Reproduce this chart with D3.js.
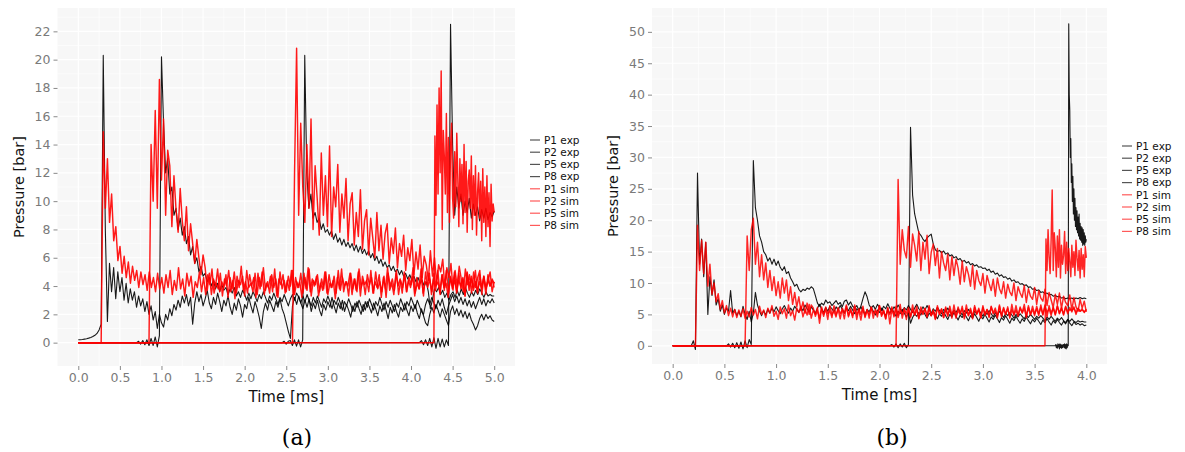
<!DOCTYPE html>
<html>
<head>
<meta charset="utf-8">
<script src="https://cdn.jsdelivr.net/npm/d3@7"></script>
<style>
  body { margin: 0; background: #fff; }
  svg { display: block; font-family: "DejaVu Sans", Verdana, sans-serif; }
</style>
</head>
<body>
<svg id="chart" width="1185" height="452"></svg>
<script>
// ---- data ----
const seriesNames = ["P1 exp", "P2 exp", "P5 exp", "P8 exp", "P1 sim", "P2 sim", "P5 sim", "P8 sim"];

const aXTicks = [0, 0.5, 1, 1.5, 2, 2.5, 3, 3.5, 4, 4.5, 5];
const aYTicks = [0, 2, 4, 6, 8, 10, 12, 14, 16, 18, 20, 22];
const bXTicks = [0, 0.5, 1, 1.5, 2, 2.5, 3, 3.5, 4];
const bYTicks = [0, 5, 10, 15, 20, 25, 30, 35, 40, 45, 50];

// [start, end] time in ms of each sampled record (pressure is 0 before start)
const aSpan = [[0, 5], [0.7, 5], [2.45, 5], [4.1, 5], [0.275, 5], [0.85, 5], [2.575, 5], [4.275, 5]];
const bSpan = [[0.18, 4], [0.52, 4], [2.1, 4], [3.7, 4], [0.22, 4], [0.7, 4], [2.16, 4], [3.6, 4]];

// panel (a), pressures in bar
const a_P1exp = [0.2,0.2,0.22,0.25,0.28,0.32,0.37,0.43,0.52,0.65,0.9,1.3,20.3,8,1.5,5.6,3.6,5.3,3.1,5.0,
  3.6,4.6,3.0,4.2,2.8,3.8,3.0,3.6,2.5,3.3,2.6,3.1,2.2,2.9,2.0,2.6,1.6,2.2,1.0,2.0,
  1.4,1.1,2.0,1.6,2.4,1.9,2.7,2.3,3.0,2.5,3.3,2.8,3.4,2.6,3.2,1.3,2.8,3.6,2.9,3.4,
  2.6,3.1,3.7,2.8,2.4,3.2,2.7,3.5,2.9,2.2,3.0,2.6,3.3,2.5,2.0,2.8,2.3,3.1,2.6,1.8,
  2.7,2.4,3.2,2.6,2.1,2.9,2.4,1.8,1.0,2.2,2.8,2.3,3.0,2.6,2.2,2.9,2.5,3.1,2.4,2.0,
  1.4,0.8,0.3,2.6,3.2,2.7,3.3,2.8,2.4,3.0,2.5,3.1,2.2,2.8,2.4,3.0,2.3,1.9,2.7,2.3,
  2.9,2.5,3.2,2.6,2.1,2.8,2.4,3.0,2.2,2.7,2.3,1.8,2.6,2.2,2.9,2.4,2.0,2.7,2.3,2.9,
  2.5,2.1,2.8,2.4,1.9,2.6,2.2,2.8,2.3,1.7,2.5,2.1,2.7,2.2,1.8,2.5,2.2,2.8,2.3,1.9,
  2.6,2.2,2.7,2.1,1.7,2.4,1.9,1.4,1.2,2.0,2.5,2.1,2.7,2.3,1.8,2.4,2.0,1.6,1.2,2.2,
  2.6,2.0,2.4,1.9,2.3,1.8,2.2,1.7,2.1,1.6,1.3,0.9,1.2,1.7,2.0,1.6,2.0,1.7,1.9,1.6,1.5];
const a_P2exp = [0,0.1,-0.1,0.15,-0.15,0.2,-0.2,0.3,-0.2,0.4,-0.3,0.5,
  20.2,15.5,12,13,10.5,11,9,9.5,8,8.8,7.6,8.2,7,7.5,6.2,6.8,5.6,6,5,5.4,4.7,
  4.9,4.3,4.6,4.0,4.4,3.8,4.2,3.6,4.1,3.7,3.9,3.4,3.8,3.5,3.9,3.3,3.6,3.2,3.7,3.4,3.0,
  3.5,3.1,3.6,3.3,2.9,3.4,3.1,3.6,3.2,2.8,3.3,3.0,3.5,3.1,2.7,3.2,2.9,3.4,3.0,2.6,
  3.1,3.4,3.0,3.5,3.2,2.8,3.3,2.9,3.4,3.0,2.6,3.2,2.8,3.3,2.9,2.5,3.1,2.8,3.3,2.9,
  2.4,3.0,2.7,3.2,2.8,2.3,2.9,2.6,3.1,2.7,2.2,2.8,2.5,3.0,2.6,2.2,2.9,2.5,3.1,2.7,
  2.3,2.9,2.6,3.2,2.7,2.3,2.9,2.5,3.0,2.6,2.2,2.8,2.5,3.1,2.7,2.3,2.9,2.6,3.2,2.8,
  2.4,3.0,2.6,2.2,2.0,2.7,3.1,2.7,3.2,2.8,2.4,3.0,2.6,3.1,2.5,2.0,2.6,3.0,3.4,2.9,
  3.3,2.8,3.2,2.7,3.1,2.6,3.0,2.5,2.9,2.4,2.8,3.2,2.7,3.1,2.6,3.0,2.8,3.1,2.8];
const a_P5exp = [0,0.1,-0.1,0.1,0.15,-0.2,0.2,-0.25,0.2,-0.3,0.2,
  20.3,12,9.5,10.5,8.8,9.2,8.5,8.8,8.0,8.4,7.8,8.0,
  7.6,7.9,7.3,7.7,7.1,7.4,6.9,7.3,6.8,7.1,6.7,7.0,6.5,6.9,6.4,6.8,6.3,6.6,6.2,6.5,
  6.0,6.3,5.8,6.1,5.6,5.9,5.4,5.7,5.3,5.5,5.1,5.4,5.0,5.2,4.8,5.1,4.7,4.9,4.5,4.8,
  4.4,4.7,4.3,4.6,4.2,4.4,4.0,4.3,3.6,2.4,3.0,3.8,3.6,3.9,3.4,3.7,3.2,3.5,3.0,3.4,
  3.6,3.2,3.7,3.3,3.8,3.4,3.9,3.5,3.2,3.6,3.3,3.7,3.4,3.8,3.5,3.2,3.6,3.3,3.4,3.3,3.3];
const a_P8exp = [0,0.15,-0.15,0.2,-0.2,0.3,-0.3,0.35,-0.4,0.3,-0.3,0.25,-0.3,0.2,-0.2,
  22.5,14,9,11,9.5,10.5,9,10,9.2,10.2,8.8,9.8,9.0,9.6,8.6,9.4,8.8,9.5,8.7,9.2,8.9,9.3];
const a_P1sim = [0,14.9,9.5,13,8.5,10.5,7.2,8.2,5.8,6.8,4.9,6.1,4.6,5.7,4.2,5.4,4.4,5.1,3.9,5.0,
  4.1,4.8,3.7,5.0,3.9,4.6,3.6,4.9,3.8,
  4.6,3.5,4.8,3.9,5.1,3.4,4.4,3.7,5.3,3.8,4.5,3.3,4.9,4.0,4.7,3.2,4.3,3.9,5.0,3.6,
  4.6,3.4,4.8,4.1,5.2,3.5,4.2,3.8,4.9,3.3,4.5,4.0,5.1,3.6,4.4,3.1,4.7,3.9,5.4,3.7,
  4.3,3.5,4.8,4.0,4.6,3.2,4.9,3.8,5.0,3.4,4.2,3.9,4.7,3.6,5.2,3.3,4.5,4.1,4.8,3.5,
  4.4,3.7,5.1,3.4,4.6,3.9,4.3,3.2,4.9,3.8,5.3,3.6,4.5,4.0,4.7,3.3,4.2,3.7,5.0,3.5,
  4.8,3.9,4.4,3.1,4.6,3.8,5.2,3.6,4.3,4.0,4.9,3.4,4.5,3.7,5.0,3.3,4.7,4.1,4.4,3.6,
  5.1,3.5,4.3,3.9,4.8,3.2,4.6,3.8,5.3,3.7,4.2,3.4,4.9,4.0,4.5,3.5,5.0,3.6,4.4,3.9,
  4.7,3.3,4.6,3.8,5.2,3.5,4.3,4.1,4.9,3.4,4.5,3.7,5.1,3.6,4.8,3.9,4.2,3.2,4.7,3.8,
  5.0,3.5,4.4,4.0,4.6,3.3,4.9,3.7,4.5,3.9,5.1,3.6,4.3,3.8,4.7,3.4,4.8,4.0,4.4,3.9];
const a_P2sim = [0,14,10,16.4,9.5,18.6,11.5,15.8,9,13.6,12.5,8.2,11.8,9.4,7.8,10.9,8.6,7.2,9.6,6.5,
  8.4,7.0,5.6,7.3,6.0,4.8,6.2,5.3,
  3.7,4.9,3.4,4.5,4.0,5.2,3.6,4.3,3.9,4.8,3.2,4.6,3.8,5.0,3.5,4.4,4.1,4.7,3.3,5.1,
  3.9,4.2,3.6,4.9,3.4,4.6,4.0,5.3,3.7,4.3,3.5,4.8,3.9,4.5,3.2,5.0,3.8,4.4,3.6,4.7,
  4.0,5.1,3.4,4.3,3.9,4.9,3.5,4.6,3.7,5.2,3.3,4.4,4.1,4.8,3.6,4.5,3.8,5.0,3.4,4.2,
  3.9,4.7,3.5,5.1,3.7,4.6,4.0,4.3,3.3,4.9,3.8,4.5,3.6,5.2,3.9,4.4,3.4,4.8,4.1,4.6,
  3.5,5.0,3.8,4.3,3.6,4.7,3.2,4.9,4.0,4.5,3.7,5.1,3.4,4.4,3.9,4.8,3.6,4.6,4.1,5.3,
  3.5,4.2,3.8,4.7,3.3,5.0,3.9,4.5,3.6,4.9,4.0,4.3,3.4,4.8,3.7,5.1,3.5,4.6,3.9,4.4,
  3.6,4.9,3.8,4.5,3.3,5.0,4.0,4.7,3.7,4.3,3.5,4.8,3.9,4.6,3.8,4.4,4.0,4.5,4.2];
const a_P5sim = [0,12,20.8,9,15.5,11,8.5,14,9.5,15.8,8,12.5,10.2,7.6,13.4,9,11.8,8.2,13.9,7.5,
  11,9.6,12.6,7.8,10.5,8.8,11.6,7.2,9.8,10.6,6.9,9.2,7.5,10.8,6.6,8.6,9.4,6.2,8.8,7.4,
  6.0,9.2,6.5,8.3,5.9,7.7,8.4,5.6,7.4,6.3,8.1,5.3,7.0,6.1,7.6,5.1,6.7,5.8,7.3,4.8,
  6.4,5.2,6.9,4.6,6.1,5.5,4.4,6.5,4.7,6.0,4.2,5.5,5.0,5.9,3.9,5.3,4.6,5.6,3.7,5.1,
  4.0,5.4,4.5,3.6,5.2,4.1,4.8,3.5,5.0,3.9,4.6,5.1,3.4,4.7,3.8,4.4,5.0,3.6,4.3];
const a_P8sim = [0,14.6,9,16.8,10.5,18,12,19.2,8,15,13.2,10.5,16.2,9.2,14.5,8.5,13.8,15.5,10.2,8.8,
  13.5,9.6,14.8,11.6,8.2,13,10,12.6,8.4,14,9.2,12.8,7.8,11.4,12.2,9.5,13.2,8.0,11.8,9.0,
  12.5,7.6,10.6,12.0,8.8,11.4,7.2,12.3,8.5,11.0,7.5,11.8,8.2,10.6,6.8,11.2,8.6,9.8,9.2];

// panel (b), pressures in bar
const b_P1exp = [0,0.8,-0.6,27.5,13,17,11,16.5,5,11,8,10.5,6.5,7.5,5.5,6.5,5,6,5.5,8.8,
  5.2,5.8,4.8,5.5,4.6,6.3,5.0,4.2,5.5,3.8,5.2,8.5,6.5,5.5,4.8,5.6,4.9,5.8,5.2,6.0,
  5.4,6.2,5.6,5.1,5.9,6.4,5.7,5.2,6.0,5.5,6.3,5.8,5.3,6.1,5.6,6.5,5.9,5.4,6.2,5.7,
  5.2,6.0,6.6,5.8,5.3,6.1,5.5,6.3,5.9,5.4,6.2,5.7,6.4,5.8,5.2,6.0,5.6,6.3,5.7,5.1,
  5.9,5.5,6.2,5.6,5.0,5.8,5.4,6.1,5.5,4.9,5.7,5.3,6.0,5.4,4.8,5.6,5.2,5.9,5.3,4.7,
  5.5,5.1,5.8,5.2,4.6,5.4,3.6,4.5,5.1,4.7,5.3,4.9,5.6,5.0,4.4,5.2,4.8,5.5,4.9,4.3,
  5.1,4.7,5.4,4.8,4.2,5.0,4.6,5.3,4.7,4.1,4.9,4.5,5.2,4.6,4.0,4.8,4.4,5.1,4.5,3.9,
  4.7,4.3,5.0,4.4,3.8,4.6,4.2,4.9,4.3,3.7,4.5,4.1,4.8,4.2,3.6,4.4,4.0,4.7,4.1,3.6,
  4.3,3.9,4.6,4.0,3.5,4.2,3.8,4.4,3.9,3.4,4.1,3.7,4.3,3.8,3.3,4.0,3.6,4.2,3.7,3.3,
  3.9,3.5,4.1,3.6,3.2,3.8,3.4,3.6,3.3,3.5,3.2,3.3];
const b_P2exp = [0,0.3,-0.2,0.4,-0.3,0.5,-0.4,0.6,-0.5,0.8,-0.3,1.0,0.2,
  29.5,22,20,17.5,16.5,15,14.5,13.5,14,13,13.8,12.8,13.5,12.5,12,12.6,11.5,11.8,10.8,10.2,
  9.5,9.8,9.0,8.6,9.0,8.8,9.2,9.0,9.4,9.1,8.0,6.8,6.3,6.8,6.5,7.3,6.8,7.0,6.4,6.8,
  7.2,6.6,6.9,6.2,7.1,7.3,6.5,7.0,6.3,6.0,6.4,5.7,6.3,7.5,8.6,7.8,6.5,6.0,
  6.4,5.8,6.6,6.1,5.6,6.3,5.9,6.7,6.0,5.5,6.2,5.8,6.5,5.9,5.4,6.1,5.7,6.4,5.8,5.3,
  6.0,6.6,5.9,5.5,6.2,5.7,6.4,5.8,5.2,5.9,5.5,6.1,5.6,5.1,5.8,5.4,6.0,5.5,5.0,5.7,
  5.3,5.9,5.4,4.9,5.6,5.2,5.8,5.3,4.8,5.5,5.1,5.7,5.2,4.7,5.4,5.0,5.6,5.1,4.6,5.3,
  4.9,5.5,5.0,4.5,5.2,4.8,5.3,4.9,4.4,5.0,4.6,5.1,4.7,4.3,4.9,4.5,5.0,4.6,4.2,4.7,
  4.4,4.8,4.4,4.0,4.6,4.2,4.7,4.3,3.9,4.4,4.1,4.5,4.0,3.7,4.2,3.9,4.3,3.9,3.7,4.0,
  3.8,3.9,3.8,3.8];
const b_P5exp = [0,0.2,-0.2,0.3,-0.3,0.3,-0.2,0.4,-0.3,0.2,
  34.8,24,21,19.5,18,17.6,17,16.6,17.2,17.5,17.8,16.2,15.3,15.0,15.2,14.8,15.1,14.6,14.8,14.3,
  14.5,14.0,14.2,13.7,13.9,13.4,
  13.6,13.2,13.4,12.9,13.1,12.7,12.9,12.5,12.6,12.3,12.4,12.0,12.2,11.7,11.9,11.4,11.6,11.1,11.3,10.9,
  11.0,10.6,10.8,10.3,10.5,10.1,10.2,9.8,9.9,9.6,9.7,9.3,9.4,9.0,9.1,8.8,8.9,8.5,8.6,8.3,
  8.4,8.1,8.2,7.9,8.0,7.8,7.9,7.6,7.7,7.5,7.6,7.5,7.6,7.4,7.6,7.5,7.7,7.5,7.6,7.5];
const b_P8exp = [0,0.2,-0.3,0.1,-0.4,0.3,-0.2,0.2,-0.5,0.3,-0.3,0.2,-0.4,0.1,-0.3,0.2,
  0.2,-0.3,0.3,-0.4,0.2,-0.5,0.3,-0.3,0.2,0,
  51.3,40,37.5,30,33,26,29,23,27,21,25,20,23.5,19,22,18.5,21.5,18,20.5,17.5,
  21,17,19.5,16.8,19,16.5,18.8,16,18.5,16.2,18,16,17.5,16.5,17];
const b_P1sim = [0,19.2,12,16.8,11.5,16.5,9.5,13,8.2,10,7.0,8.3,5.8,7.2,5.2,6.4,4.8,6.0,4.6,5.8,
  4.5,5.7,4.7,5.9,4.4,5.5,
  4.6,6.1,4.9,5.8,4.3,6.3,5.0,5.7,4.5,6.0,5.2,6.4,4.7,5.5,4.2,6.2,5.1,5.9,4.4,6.5,
  4.8,5.6,4.1,6.0,5.3,6.3,4.6,5.8,4.9,6.6,4.4,5.7,5.0,6.1,3.6,5.9,4.7,6.2,5.1,5.6,
  4.5,6.4,4.9,5.8,4.3,6.0,5.2,6.5,4.6,5.7,4.8,6.2,4.2,5.9,5.0,6.3,4.5,5.6,4.9,6.1,
  4.4,5.8,5.1,6.4,4.7,5.5,4.3,6.0,5.0,6.2,4.6,5.9,4.8,6.6,4.4,5.7,5.2,6.1,4.5,5.8,
  4.9,6.3,4.3,5.6,5.0,6.0,4.6,6.4,4.8,5.7,4.2,6.1,5.1,5.9,4.5,6.2,4.9,5.8,4.4,6.5,
  4.7,5.6,5.0,6.3,4.3,5.9,4.8,6.0,4.6,6.4,5.1,5.7,4.4,6.1,4.9,5.8,4.5,6.3,5.2,6.0,
  4.7,6.5,4.6,5.9,5.0,6.2,4.4,5.8,4.9,6.4,4.8,6.0,5.3,6.6,4.7,6.1,4.9,6.3,5.1,5.9,
  4.8,6.5,5.0,6.2,4.6,6.4,5.2,6.0,4.9,6.3,5.1,6.1,5.0,6.2,5.4,5.8,5.6,6.0,5.3,5.9,
  5.5,5.7,5.4,5.8];
const b_P2sim = [0,17.5,12,18.5,20.3,13,16.5,11,14.5,10.5,13.2,9.3,12,8.8,11,8.0,10.2,7.6,10.8,8.4,
  10.5,7.2,9.4,6.6,8.5,6.2,7.8,5.6,7.0,5.2,6.8,5.0,6.5,
  6.0,4.7,5.6,4.4,6.2,5.0,5.8,4.2,6.4,4.9,5.5,4.6,6.1,5.1,5.7,4.3,6.3,4.8,5.9,4.5,
  6.5,5.0,5.6,4.1,6.0,4.7,5.8,4.4,6.2,5.2,5.5,4.6,6.4,4.9,5.7,4.3,6.1,3.5,5.9,4.8,
  6.3,4.5,5.6,5.0,6.0,4.2,5.8,4.7,6.5,4.9,5.7,4.4,6.2,5.1,5.9,4.6,6.1,4.8,5.5,4.3,
  6.4,5.0,5.8,4.5,6.0,4.7,6.3,4.9,5.6,4.4,6.2,5.2,5.9,4.6,6.5,4.8,5.7,4.3,6.1,5.0,
  6.0,4.5,6.4,4.9,5.8,4.7,6.2,5.1,5.6,4.4,6.3,4.8,6.1,5.0,5.9,4.6,6.6,4.9,5.7,4.7,
  6.2,5.2,6.0,4.5,6.4,5.0,5.8,4.8,6.3,5.1,6.1,4.9,6.5,5.3,5.9,4.8,6.2,5.0,6.4,5.2,
  6.0,4.9,6.3,5.1,6.1,5.4,6.2,5.0,6.0,5.5,5.9,5.3,5.8];
const b_P5sim = [0,26.5,13,18.5,15.2,14,19,12.5,17.8,16,13.5,18.2,12,16.5,13.8,17.6,11.5,14.9,16.2,12.8,
  15.5,10.8,15,13.2,12,14.6,10.5,14.2,11.2,13.8,12.4,9.8,13.5,10.2,12.6,11.4,9.5,12.8,9.0,12.0,
  10.4,9.6,11.5,8.4,11.2,9.9,8.8,10.6,7.9,10.8,9.1,8.3,10.2,7.6,9.8,8.6,8.0,10.0,7.2,9.4,
  8.4,7.7,9.6,6.9,9.1,7.9,7.4,9.3,6.6,8.8,7.6,7.1,9.0,6.4,8.5,7.3,6.1,8.2,6.6,8.4,
  5.9,7.9,6.9,6.4,8.1,5.7,7.7,6.2,5.5,7.4,6.0,7.1,5.4];
const b_P8sim = [0,17,12,18.5,14.2,11.5,17,24.8,12,18,15.6,11,17.5,12.5,18.5,10.8,16,13,14.4,18.2,
  11.5,16.5,12,15.5,13.4,11,16,12.5,15,11.2,16.8,14,12,15.2,10.8,15.5,12.2,14.5,11,15.8,14];

const aValues = [a_P1exp, a_P2exp, a_P5exp, a_P8exp, a_P1sim, a_P2sim, a_P5sim, a_P8sim];
const bValues = [b_P1exp, b_P2exp, b_P5exp, b_P8exp, b_P1sim, b_P2sim, b_P5sim, b_P8sim];

// ---- drawing ----
const svg = d3.select("#chart");

function toPoints(values, span) {
  const [t0, t1] = span;
  const step = (t1 - t0) / (values.length - 1);
  const pts = values.map((v, i) => [t0 + i * step, v]);
  if (t0 > 0) pts.unshift([0, 0]);
  return pts;
}

function drawPanel(cfg) {
  const { box, xDomain, yDomain, xTicks, yTicks, xMinor, yMinor, values, spans, simOpacity, legend, caption, id } = cfg;

  const x = d3.scaleLinear().domain(xDomain).range([box.left, box.right]);
  const y = d3.scaleLinear().domain(yDomain).range([box.bottom, box.top]);

  const g = svg.append("g");

  g.append("rect")
    .attr("x", box.left).attr("y", box.top)
    .attr("width", box.right - box.left).attr("height", box.bottom - box.top)
    .attr("fill", "#f7f7f7");

  // minor + major grid
  g.selectAll(".vminor").data(xMinor).join("line")
    .attr("x1", d => x(d)).attr("x2", d => x(d))
    .attr("y1", box.top).attr("y2", box.bottom)
    .attr("stroke", "#ffffff").attr("stroke-width", 0.6);
  g.selectAll(".hminor").data(yMinor).join("line")
    .attr("x1", box.left).attr("x2", box.right)
    .attr("y1", d => y(d)).attr("y2", d => y(d))
    .attr("stroke", "#ffffff").attr("stroke-width", 0.6);
  g.selectAll(".vmajor").data(xTicks).join("line")
    .attr("x1", d => x(d)).attr("x2", d => x(d))
    .attr("y1", box.top).attr("y2", box.bottom)
    .attr("stroke", "#ffffff").attr("stroke-width", 1.2);
  g.selectAll(".hmajor").data(yTicks).join("line")
    .attr("x1", box.left).attr("x2", box.right)
    .attr("y1", d => y(d)).attr("y2", d => y(d))
    .attr("stroke", "#ffffff").attr("stroke-width", 1.2);

  // axes
  const xAxis = d3.axisBottom(x).tickValues(xTicks).tickFormat(d3.format(".1f"))
    .tickSize(4).tickPadding(3);
  const yAxis = d3.axisLeft(y).tickValues(yTicks).tickFormat(d3.format("d"))
    .tickSize(4).tickPadding(3);

  const gx = g.append("g").attr("transform", `translate(0,${box.bottom})`).call(xAxis);
  const gy = g.append("g").attr("transform", `translate(${box.left},0)`).call(yAxis);
  [gx, gy].forEach(a => {
    a.select(".domain").remove();
    a.selectAll(".tick line").attr("stroke", "#8a8a8a");
    a.selectAll(".tick text").attr("fill", "#7a7a7a")
      .style("font-size", "12.5px").style("font-family", "DejaVu Sans, Verdana, sans-serif");
  });

  // axis titles
  g.append("text")
    .attr("x", (box.left + box.right) / 2).attr("y", box.bottom + 36)
    .attr("text-anchor", "middle").attr("font-size", "15px").attr("fill", "#111")
    .text("Time [ms]");
  g.append("text")
    .attr("transform", `translate(${box.left - 34},${(box.top + box.bottom) / 2}) rotate(-90)`)
    .attr("text-anchor", "middle").attr("font-size", "14.5px").attr("fill", "#111")
    .text("Pressure [bar]");

  // lines
  const clipId = "clip-" + id;
  svg.append("clipPath").attr("id", clipId).append("rect")
    .attr("x", box.left).attr("y", box.top)
    .attr("width", box.right - box.left).attr("height", box.bottom - box.top);

  const line = d3.line().x(d => x(d[0])).y(d => y(d[1]));
  const plot = g.append("g").attr("clip-path", `url(#${clipId})`);

  const series = values.map((v, i) => ({ name: seriesNames[i], sim: i >= 4, points: toPoints(v, spans[i]) }));

  plot.selectAll("path.exp").data(series.filter(s => !s.sim)).join("path")
    .attr("class", "exp")
    .attr("d", d => line(d.points))
    .attr("fill", "none").attr("stroke", "#000").attr("stroke-opacity", 0.9)
    .attr("stroke-width", 1.1).attr("stroke-linejoin", "round");

  plot.selectAll("path.sim").data(series.filter(s => s.sim)).join("path")
    .attr("class", "sim")
    .attr("d", d => line(d.points))
    .attr("fill", "none").attr("stroke", "#ff0000").attr("stroke-opacity", simOpacity)
    .attr("stroke-width", 1.45).attr("stroke-linejoin", "round");

  // legend
  const lg = g.append("g").attr("transform", `translate(${legend.x},${legend.y})`);
  const row = lg.selectAll("g").data(series).join("g")
    .attr("transform", (d, i) => `translate(0,${i * legend.gap})`);
  row.append("line")
    .attr("x1", 0).attr("x2", 10).attr("y1", 0).attr("y2", 0)
    .attr("stroke", d => d.sim ? "#ff5a5a" : "#555555").attr("stroke-width", 1.2);
  row.append("text")
    .attr("x", 14).attr("y", 0).attr("dy", "0.36em")
    .attr("font-size", "10.5px").attr("fill", "#111")
    .text(d => d.name);

  // caption
  svg.append("text")
    .attr("x", caption.x).attr("y", caption.y)
    .attr("text-anchor", "middle")
    .style("font-family", "DejaVu Serif, Liberation Serif, serif")
    .attr("font-size", "22px").attr("fill", "#000")
    .text(caption.text);
}

drawPanel({
  id: "a",
  box: { left: 57.5, right: 515, top: 8, bottom: 366 },
  xDomain: [-0.25, 5.25],
  yDomain: [-1.65, 23.65],
  xTicks: aXTicks,
  yTicks: aYTicks,
  xMinor: aXTicks.slice(0, -1).map(d => d + 0.25),
  yMinor: aYTicks.map(d => d + 1),
  values: aValues,
  spans: aSpan,
  simOpacity: 0.9,
  legend: { x: 530, y: 140, gap: 12.2 },
  caption: { x: 297, y: 445, text: "(a)" }
});

drawPanel({
  id: "b",
  box: { left: 652, right: 1107, top: 8, bottom: 364 },
  xDomain: [-0.2, 4.2],
  yDomain: [-2.9, 53.8],
  xTicks: bXTicks,
  yTicks: bYTicks,
  xMinor: bXTicks.slice(0, -1).map(d => d + 0.25),
  yMinor: bYTicks.map(d => d + 2.5),
  values: bValues,
  spans: bSpan,
  simOpacity: 0.85,
  legend: { x: 1122, y: 146, gap: 12.2 },
  caption: { x: 892, y: 445, text: "(b)" }
});
</script>
</body>
</html>
